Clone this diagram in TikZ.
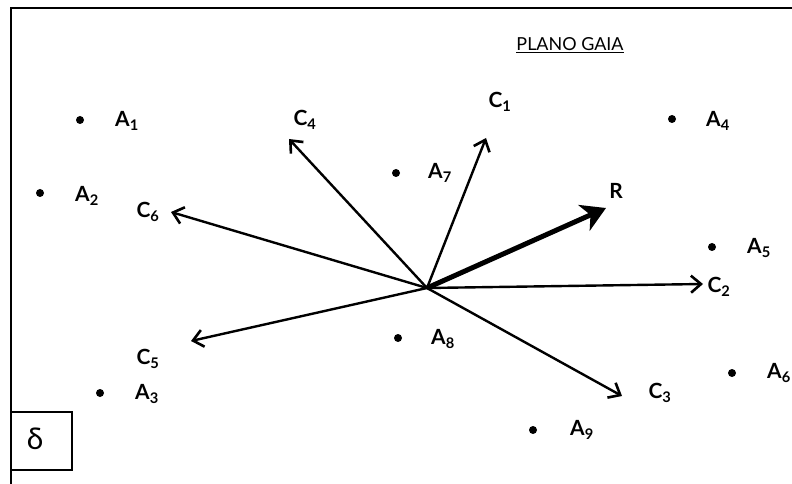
\documentclass[tikz,border=0pt]{standalone}
\usepackage{fontspec}
\setmainfont{Lato}
\usetikzlibrary{arrows.meta}
\begin{document}
\begin{tikzpicture}[x=1bp,y=-1bp,
  lbl/.style={inner sep=0pt,font=\fontsize{21}{21}\selectfont\bfseries},
  pt/.style={circle,fill=black,inner sep=0pt,minimum size=8bp},
  vec/.style={line width=2.4bp,-{Straight Barb[length=10bp,width=17bp,line width=2.6bp]}},
  res/.style={line width=5bp,-{Stealth[length=24bp,width=28bp,inset=7bp]}}]
\useasboundingbox (0,0) rectangle (792,484);
% frame
\draw[line width=2.2bp] (11,484) -- (11,8) -- (792,8);
% title
\node[inner sep=0pt,font=\fontsize{18}{18}\selectfont] (title) at (570,45) {\underline{PLANO GAIA}};
% origin
\coordinate (O) at (427,288);
% vector tips
\coordinate (t1) at (486,138);
\coordinate (t2) at (703,284);
\coordinate (t3) at (622,396);
\coordinate (t4) at (289,139);
\coordinate (t5) at (191,341);
\coordinate (t6) at (171,212);
\coordinate (tR) at (606,208);
\draw[vec] (O) -- (t1);
\draw[vec] (O) -- (t2);
\draw[vec] (O) -- (t3);
\draw[vec] (O) -- (t4);
\draw[vec] (O) -- (t5);
\draw[vec] (O) -- (t6);
\draw[res] (O) -- (tR);
% vector labels
\node[lbl] (c1) at (500,102) {C\textsubscript{1}};
\node[lbl] (c2) at (719,287) {C\textsubscript{2}};
\node[lbl] (c3) at (660,393) {C\textsubscript{3}};
\node[lbl] (c4) at (305,120) {C\textsubscript{4}};
\node[lbl] (c5) at (148,359) {C\textsubscript{5}};
\node[lbl] (c6) at (148,212) {C\textsubscript{6}};
\node[lbl] (r) at (616,191) {R};
% alternatives
\node[pt] (p1) at (80,120) {};
\node[lbl] (a1) at (127,121) {A\textsubscript{1}};
\node[pt] (p2) at (40,193) {};
\node[lbl] (a2) at (87,196) {A\textsubscript{2}};
\node[pt] (p3) at (100,393) {};
\node[lbl] (a3) at (147,394) {A\textsubscript{3}};
\node[pt] (p4) at (672,119) {};
\node[lbl] (a4) at (718,121) {A\textsubscript{4}};
\node[pt] (p5) at (712,247) {};
\node[lbl] (a5) at (759,248) {A\textsubscript{5}};
\node[pt] (p6) at (732,373) {};
\node[lbl] (a6) at (779,373) {A\textsubscript{6}};
\node[pt] (p7) at (396,173) {};
\node[lbl] (a7) at (440,173) {A\textsubscript{7}};
\node[pt] (p8) at (398,338) {};
\node[lbl] (a8) at (443,339) {A\textsubscript{8}};
\node[pt] (p9) at (533,430) {};
\node[lbl] (a9) at (582,430) {A\textsubscript{9}};
% delta box
\draw[line width=2bp] (11,412) rectangle (72,470);
\node[inner sep=0pt,font=\fontsize{30}{30}\selectfont] (d) at (35,439) {δ};
\end{tikzpicture}
\end{document}
